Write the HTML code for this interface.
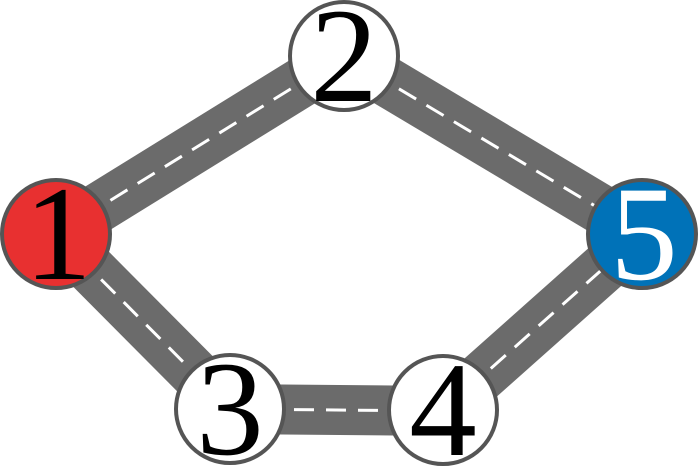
<!DOCTYPE html>
<html><head><style>html,body{margin:0;padding:0;background:#fff;}svg{display:block}</style></head>
<body>
<svg width="700" height="466" viewBox="0 0 700 466" xmlns="http://www.w3.org/2000/svg">
<g stroke="#6b6b6b" stroke-width="50" fill="none">
<line x1="56" y1="234" x2="344" y2="56"/>
<line x1="344" y1="56" x2="642" y2="234"/>
<line x1="56" y1="234" x2="230" y2="409"/>
<line x1="230" y1="409" x2="443" y2="411"/>
<line x1="443" y1="411" x2="642" y2="234"/>
</g>
<g stroke="#fff" stroke-width="3" fill="none" stroke-dasharray="20 12">
<line x1="56" y1="234" x2="344" y2="56"/>
<line x1="344" y1="56" x2="642" y2="234"/>
<line x1="56" y1="234" x2="230" y2="409"/>
<line x1="230" y1="409" x2="443" y2="411"/>
<line x1="443" y1="411" x2="642" y2="234"/>
</g>
<g stroke="#555" stroke-width="4">
<circle cx="56" cy="234" r="54" fill="#e83030"/>
<circle cx="344" cy="56" r="54" fill="#fff"/>
<circle cx="230" cy="409" r="54" fill="#fff"/>
<circle cx="443" cy="410" r="54" fill="#fff"/>
<circle cx="642" cy="234" r="54" fill="#0072b8"/>
</g>
<g font-family="'Liberation Serif', serif" font-size="135" text-anchor="middle">
<text x="58" y="279" fill="#000">1</text>
<text x="344" y="101" fill="#000">2</text>
<text x="230" y="454" fill="#000">3</text>
<text x="443" y="455" fill="#000">4</text>
<text x="644" y="279" fill="#fff">5</text>
</g>
</svg>
</body></html>
